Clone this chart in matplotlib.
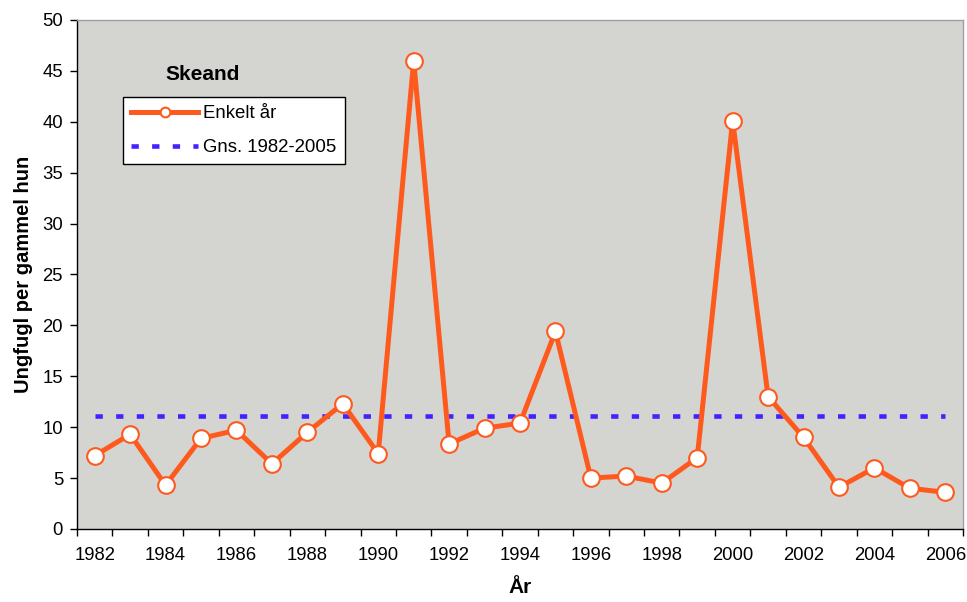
import matplotlib
matplotlib.use("Agg")
import matplotlib.pyplot as plt
import numpy as np

years = list(range(1982, 2007))
values = [7.2, 9.3, 4.3, 8.9, 9.7, 6.4, 9.5, 12.3, 7.4, 46.0,
          8.35, 9.9, 10.4, 19.4, 5.0, 5.2, 4.5, 7.0, 40.1, 13.0,
          9.0, 4.1, 6.0, 4.0, 3.6]
mean_value = 11.1
mean_series = [mean_value] * len(years)
tick_labels = [str(y) for y in years[::2]]

plt.rcParams['font.family'] = ['Liberation Sans', 'DejaVu Sans']

fig = plt.figure(figsize=(9.67, 6.02), dpi=100)
ax = fig.add_axes([0.0796, 0.1213, 0.9163, 0.8455])
ax.set_facecolor('#D4D5D1')

x = np.arange(len(years))
ax.plot(x, mean_series, color='#4422FF', lw=3.3, linestyle=(0, (1.6, 2.9)),
        dash_capstyle='butt', label='Gns. 1982-2005', zorder=2)
ax.plot(x, values, color='#FF5A1E', lw=3.6, marker='o', markersize=12,
        markerfacecolor='white', markeredgecolor='#FF5A1E', markeredgewidth=1.5,
        label='Enkelt år', zorder=3)

ax.set_xlim(-0.5, len(years) - 0.5)
ax.set_ylim(0, 50)
ax.set_yticks(np.arange(0, 51, 5))
ax.set_xticks(x[::2])
ax.set_xticklabels(tick_labels)
ax.set_xticks(np.arange(-0.5, len(years), 1), minor=True)
ax.tick_params(axis='x', which='major', length=0, pad=13, labelsize=13.3)
ax.tick_params(axis='x', which='minor', length=5, width=1, direction='out')
ax.tick_params(axis='y', length=5, width=1, direction='out', labelsize=13.3, pad=5)

for s in ['left', 'bottom']:
    ax.spines[s].set_color('black')
    ax.spines[s].set_linewidth(1)
for s in ['top', 'right']:
    ax.spines[s].set_color('#A0A0A0')
    ax.spines[s].set_linewidth(1)

ax.set_ylabel('Ungfugl per gammel hun', fontsize=14.5, fontweight='bold', labelpad=7)
ax.set_xlabel('År', fontsize=15, fontweight='bold', labelpad=10)

ax.text(0.0993, 0.892, 'Skeand', transform=ax.transAxes, fontsize=15,
        fontweight='bold', ha='left', va='center')

handles, labels = ax.get_legend_handles_labels()
leg = ax.legend(handles[::-1], labels[::-1], loc='upper left',
                bbox_to_anchor=(0.052, 0.849), fontsize=13.4, frameon=True,
                fancybox=False, edgecolor='black', facecolor='white',
                framealpha=1, handlelength=3.6, handletextpad=0.25,
                borderpad=0.45, labelspacing=0.9, borderaxespad=0)
leg.get_frame().set_linewidth(1)
for h in leg.get_lines():
    if h.get_marker() == 'o':
        h.set_markersize(7)

fig.savefig('out.png', dpi=100)
